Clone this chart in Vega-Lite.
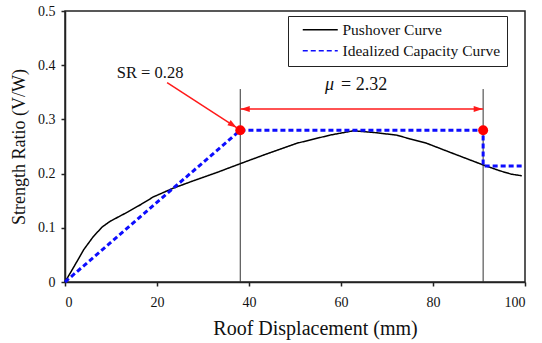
{
  "$schema": "https://vega.github.io/schema/vega-lite/v6.json",
  "width": 460,
  "height": 271,
  "autosize": "none",
  "padding": {"left": 65, "top": 11, "right": 17, "bottom": 61},
  "config": {
    "font": "Liberation Serif",
    "view": {"stroke": "#222", "strokeWidth": 1.5},
    "text": {"font": "Liberation Serif"},
    "axis": {
      "grid": false,
      "domainColor": "#222",
      "domainWidth": 1.5,
      "tickColor": "#222",
      "tickWidth": 1.5,
      "tickSize": 4,
      "labelFont": "Liberation Serif",
      "labelFontSize": 14,
      "labelColor": "#111",
      "titleFont": "Liberation Serif",
      "titleFontSize": 18,
      "titleFontWeight": "normal",
      "titleColor": "#111"
    },
    "legend": {
      "orient": "none",
      "legendX": 223,
      "legendY": 5,
      "strokeColor": "#222",
      "fillColor": "white",
      "padding": 6,
      "labelFont": "Liberation Serif",
      "labelFontSize": 15.5,
      "labelColor": "#111",
      "labelOffset": 33,
      "symbolType": "M0.2,0H7.2",
      "symbolSize": 100,
      "symbolStrokeWidth": 1.5,
      "rowPadding": 4
    }
  },
  "datasets": {
    "curves": [
      {"series": "Pushover Curve", "i": 0, "x": 0, "y": 0},
      {"series": "Pushover Curve", "i": 1, "x": 2, "y": 0.029},
      {"series": "Pushover Curve", "i": 2, "x": 4.1, "y": 0.06},
      {"series": "Pushover Curve", "i": 3, "x": 6, "y": 0.082},
      {"series": "Pushover Curve", "i": 4, "x": 8, "y": 0.101},
      {"series": "Pushover Curve", "i": 5, "x": 9.8, "y": 0.112},
      {"series": "Pushover Curve", "i": 6, "x": 13.6, "y": 0.129},
      {"series": "Pushover Curve", "i": 7, "x": 16.5, "y": 0.143},
      {"series": "Pushover Curve", "i": 8, "x": 19.2, "y": 0.157},
      {"series": "Pushover Curve", "i": 9, "x": 23.5, "y": 0.173},
      {"series": "Pushover Curve", "i": 10, "x": 28, "y": 0.187},
      {"series": "Pushover Curve", "i": 11, "x": 33, "y": 0.202},
      {"series": "Pushover Curve", "i": 12, "x": 38, "y": 0.218},
      {"series": "Pushover Curve", "i": 13, "x": 43.1, "y": 0.234},
      {"series": "Pushover Curve", "i": 14, "x": 50.4, "y": 0.256},
      {"series": "Pushover Curve", "i": 15, "x": 57.6, "y": 0.271},
      {"series": "Pushover Curve", "i": 16, "x": 62.7, "y": 0.279},
      {"series": "Pushover Curve", "i": 17, "x": 67, "y": 0.276},
      {"series": "Pushover Curve", "i": 18, "x": 72.1, "y": 0.271},
      {"series": "Pushover Curve", "i": 19, "x": 75, "y": 0.264},
      {"series": "Pushover Curve", "i": 20, "x": 78.6, "y": 0.256},
      {"series": "Pushover Curve", "i": 21, "x": 84.4, "y": 0.237},
      {"series": "Pushover Curve", "i": 22, "x": 90.9, "y": 0.216},
      {"series": "Pushover Curve", "i": 23, "x": 94.6, "y": 0.205},
      {"series": "Pushover Curve", "i": 24, "x": 97, "y": 0.199},
      {"series": "Pushover Curve", "i": 25, "x": 99.3, "y": 0.196},
      {"series": "Idealized Capacity Curve", "i": 0, "x": 0, "y": 0},
      {"series": "Idealized Capacity Curve", "i": 1, "x": 38.1, "y": 0.28},
      {"series": "Idealized Capacity Curve", "i": 2, "x": 90.9, "y": 0.28},
      {"series": "Idealized Capacity Curve", "i": 3, "x": 90.9, "y": 0.214},
      {"series": "Idealized Capacity Curve", "i": 4, "x": 99.3, "y": 0.214}
    ],
    "guides": [
      {"x": 38.1, "y": 0, "y2": 0.356},
      {"x": 90.9, "y": 0, "y2": 0.356}
    ],
    "muSpan": [{"x": 38.1, "x2": 90.9, "y": 0.319}],
    "muHeadLeft": [{"x": 38.2, "y": 0.319}],
    "muHeadRight": [{"x": 90.8, "y": 0.319}],
    "srArrow": [{"x": 22.2, "y": 0.368, "x2": 37.3, "y2": 0.285}],
    "srHead": [{"x": 37.3, "y": 0.285}],
    "yieldPoints": [
      {"x": 38.1, "y": 0.28},
      {"x": 90.9, "y": 0.28}
    ],
    "srLabel": [{"x": 18.5, "y": 0.376, "label": "SR = 0.28"}],
    "muSymbol": [{"x": 57.5, "y": 0.354, "label": "μ"}],
    "muValue": [{"x": 60.0, "y": 0.354, "label": "= 2.32"}]
  },
  "layer": [
    {
      "data": {"name": "guides"},
      "mark": {"type": "rule", "color": "#333", "strokeWidth": 1},
      "encoding": {
        "x": {
          "field": "x",
          "type": "quantitative",
          "scale": {"domain": [0, 100], "nice": false},
          "axis": {
            "title": "Roof Displacement (mm)",
            "titleFontSize": 20,
            "values": [0, 20, 40, 60, 80, 100],
            "labelPadding": 9,
            "titlePadding": 9,
            "titleX": 250
          }
        },
        "y": {
          "field": "y",
          "type": "quantitative",
          "scale": {"domain": [0, 0.5], "nice": false},
          "axis": {
            "title": "Strength Ratio (V/W)",
            "values": [0, 0.1, 0.2, 0.3, 0.4, 0.5],
            "format": ".1~f",
            "labelPadding": 6,
            "titlePadding": 9
          }
        },
        "y2": {"field": "y2"}
      }
    },
    {
      "data": {"name": "curves"},
      "mark": {"type": "line", "strokeCap": "butt"},
      "encoding": {
        "x": {"field": "x", "type": "quantitative"},
        "y": {"field": "y", "type": "quantitative"},
        "order": {"field": "i", "type": "quantitative"},
        "color": {
          "field": "series",
          "type": "nominal",
          "scale": {
            "domain": ["Pushover Curve", "Idealized Capacity Curve"],
            "range": ["#000000", "#0d0dff"]
          },
          "legend": {"title": null}
        },
        "strokeDash": {
          "field": "series",
          "type": "nominal",
          "scale": {
            "domain": ["Pushover Curve", "Idealized Capacity Curve"],
            "range": [[1, 0], [5, 3]]
          },
          "legend": {"title": null}
        },
        "strokeWidth": {
          "condition": {"test": "datum.series == 'Idealized Capacity Curve'", "value": 3},
          "value": 1.5
        }
      }
    },
    {
      "data": {"name": "muSpan"},
      "mark": {"type": "rule", "color": "#ff1a1a", "strokeWidth": 1.5},
      "encoding": {
        "x": {"field": "x", "type": "quantitative"},
        "x2": {"field": "x2"},
        "y": {"field": "y", "type": "quantitative"}
      }
    },
    {
      "data": {"name": "muHeadLeft"},
      "mark": {"type": "point", "shape": "M0,0L1.8,-0.6L1.8,0.6Z", "filled": true, "opacity": 1, "color": "#ff1a1a", "size": 100},
      "encoding": {
        "x": {"field": "x", "type": "quantitative"},
        "y": {"field": "y", "type": "quantitative"}
      }
    },
    {
      "data": {"name": "muHeadRight"},
      "mark": {"type": "point", "shape": "M0,0L-1.8,-0.6L-1.8,0.6Z", "filled": true, "opacity": 1, "color": "#ff1a1a", "size": 100},
      "encoding": {
        "x": {"field": "x", "type": "quantitative"},
        "y": {"field": "y", "type": "quantitative"}
      }
    },
    {
      "data": {"name": "srArrow"},
      "mark": {"type": "rule", "color": "#ff1a1a", "strokeWidth": 1.5},
      "encoding": {
        "x": {"field": "x", "type": "quantitative"},
        "y": {"field": "y", "type": "quantitative"},
        "x2": {"field": "x2"},
        "y2": {"field": "y2"}
      }
    },
    {
      "data": {"name": "srHead"},
      "mark": {"type": "point", "shape": "M0,0L-1.8,-0.6L-1.8,0.6Z", "angle": 33, "filled": true, "opacity": 1, "color": "#ff1a1a", "size": 100},
      "encoding": {
        "x": {"field": "x", "type": "quantitative"},
        "y": {"field": "y", "type": "quantitative"}
      }
    },
    {
      "data": {"name": "yieldPoints"},
      "mark": {"type": "point", "shape": "circle", "filled": true, "opacity": 1, "color": "#ff0000", "size": 100},
      "encoding": {
        "x": {"field": "x", "type": "quantitative"},
        "y": {"field": "y", "type": "quantitative"}
      }
    },
    {
      "data": {"name": "srLabel"},
      "mark": {"type": "text", "font": "Liberation Serif", "fontSize": 16.5, "align": "center", "baseline": "alphabetic", "color": "#111"},
      "encoding": {
        "x": {"field": "x", "type": "quantitative"},
        "y": {"field": "y", "type": "quantitative"},
        "text": {"field": "label"}
      }
    },
    {
      "data": {"name": "muSymbol"},
      "mark": {"type": "text", "font": "Liberation Serif", "fontSize": 18, "fontStyle": "italic", "align": "center", "baseline": "alphabetic", "color": "#111"},
      "encoding": {
        "x": {"field": "x", "type": "quantitative"},
        "y": {"field": "y", "type": "quantitative"},
        "text": {"field": "label"}
      }
    },
    {
      "data": {"name": "muValue"},
      "mark": {"type": "text", "font": "Liberation Serif", "fontSize": 18, "align": "left", "baseline": "alphabetic", "color": "#111"},
      "encoding": {
        "x": {"field": "x", "type": "quantitative"},
        "y": {"field": "y", "type": "quantitative"},
        "text": {"field": "label"}
      }
    }
  ]
}
